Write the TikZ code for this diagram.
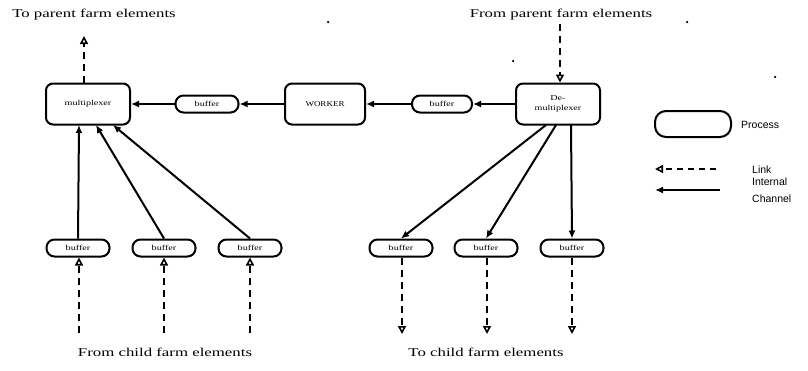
\documentclass[tikz,border=0pt]{standalone}
\usepackage{fontspec}
\setmainfont{Liberation Serif}
\setsansfont{Liberation Sans}
\usetikzlibrary{arrows.meta}
% horizontally widened lettering
\newcommand\stretchtxt[2][1.35]{\scalebox{#1}[1]{#2}}
\begin{document}
\begin{tikzpicture}[x=1pt,y=-1pt,
  procbox/.style={draw,line width=2pt,rounded corners=7pt,minimum width=84pt,minimum height=41pt,
    inner sep=1pt,align=center,font=\fontsize{7.5}{9}\selectfont},
  bufbox/.style={draw,line width=2pt,rounded corners=8pt,minimum width=63pt,minimum height=17pt,
    inner sep=0pt,font=\fontsize{7.5}{9}\selectfont},
  chan/.style={line width=2pt,-{Latex[length=8pt,width=7pt]}},
  lnk/.style={line width=2pt,dash pattern=on 7pt off 5pt,-{Triangle[open,length=8pt,width=8pt,line width=1.6pt]}},
  lbl/.style={font=\fontsize{12}{14}\selectfont,inner sep=0pt},
  keylbl/.style={font=\sffamily\fontsize{10.5}{12}\selectfont,inner sep=0pt,anchor=west},
  speck/.style={fill=black,circle,inner sep=0pt,minimum size=2.5pt}]
\useasboundingbox[fill=white] (0,0) rectangle (808,370);

% top row of processes
\node[procbox] (mux) at (88,104) {\stretchtxt{multiplexer}};
\node[bufbox] (b1) at (207,104) {\stretchtxt{buffer}};
\node[procbox,minimum width=80pt] (worker) at (325,104) {\stretchtxt[1.2]{WORKER}};
\node[bufbox,minimum width=60pt] (b2) at (442,104) {\stretchtxt{buffer}};
\node[procbox] (demux) at (558,104) {\stretchtxt{\shortstack{De-\\[2pt]multiplexer}}};

\draw[chan] (demux.west) -- (b2.east);
\draw[chan] (b2.west) -- (worker.east);
\draw[chan] (worker.west) -- (b1.east);
\draw[chan] (b1.west) -- (mux.east);

% input buffers from child elements
\node[bufbox] (ia) at (78,248) {\stretchtxt{buffer}};
\node[bufbox] (ib) at (164,248) {\stretchtxt{buffer}};
\node[bufbox] (ic) at (250,248) {\stretchtxt{buffer}};
\draw[chan] (ia.north) -- (79,125);
\draw[chan] (ib.north) -- (96,125);
\draw[chan] (ic.north) -- (113,125);

% output buffers to child elements
\node[bufbox] (oa) at (401,248) {\stretchtxt{buffer}};
\node[bufbox] (ob) at (486,248) {\stretchtxt{buffer}};
\node[bufbox] (oc) at (572,248) {\stretchtxt{buffer}};
\draw[chan] (546,125) -- (oa.north);
\draw[chan] (556,125) -- (ob.north);
\draw[chan] (571,125) -- (oc.north);

% links to and from other farm elements
\coordinate (ptop) at (84,36);
\coordinate (pin) at (560,24);
\draw[lnk] (mux.north -| ptop) -- (ptop);
\draw[lnk] (pin) -- (pin |- demux.north);
\coordinate (ca) at (79,333);
\coordinate (cb) at (164,333);
\coordinate (cc) at (250,333);
\draw[lnk] (ca) -- (ca |- ia.south);
\draw[lnk] (cb) -- (cb |- ib.south);
\draw[lnk] (cc) -- (cc |- ic.south);
\coordinate (da) at (402,334);
\coordinate (db) at (487,334);
\coordinate (dc) at (572,334);
\draw[lnk] (da |- oa.south) -- (da);
\draw[lnk] (db |- ob.south) -- (db);
\draw[lnk] (dc |- oc.south) -- (dc);

% captions
\node[lbl] (tp) at (94,15) {\stretchtxt[1.4]{To parent farm elements}};
\node[lbl] (fp) at (561,15) {\stretchtxt[1.4]{From parent farm elements}};
\node[lbl] (fc) at (165,352) {\stretchtxt[1.4]{From child farm elements}};
\node[lbl] (tc) at (486,352) {\stretchtxt[1.4]{To child farm elements}};

% key
\node[draw,line width=2pt,rounded corners=11pt,minimum width=76pt,minimum height=26pt] (kp) at (693,124) {};
\node[keylbl] (kpt) at (741,125) {Process};
\coordinate (kl1) at (716,169);
\coordinate (kl2) at (655,169);
\draw[lnk,dash pattern=on 6pt off 5pt] (kl1) -- (kl2);
\node[keylbl] (klt) at (752,170) {Link};
\coordinate (kc1) at (720,190);
\coordinate (kc2) at (655,190);
\draw[chan] (kc1) -- (kc2);
\node[keylbl] (kc3) at (752,182) {Internal};
\node[keylbl] (kc4) at (752,199) {Channel};

% stray specks
\node[speck] (s1) at (328,22) {};
\node[speck] (s2) at (687,22) {};
\node[speck] (s3) at (513,61) {};
\node[speck] (s4) at (775,77) {};
\end{tikzpicture}
\end{document}
